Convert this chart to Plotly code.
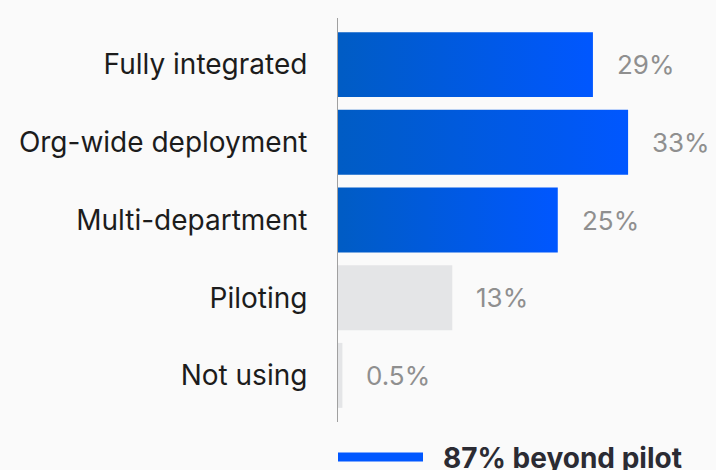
import plotly.graph_objects as go

# Adoption stage shares (percent of respondents)
categories = ["Fully integrated", "Org-wide deployment", "Multi-department", "Piloting", "Not using"]
shares = [29, 33, 25, 13, 0.5]
value_labels = ["29%", "33%", "25%", "13%", "0.5%"]
beyond_pilot = [True, True, True, False, False]
summary_label = "87% beyond pilot"

BLUE_DARK = "#005cc4"
BLUE = "#0057ff"
GREY_BAR = "#e4e5e7"
HALF = 0.418  # half of the bar thickness in category units
FONT = "Inter"

fig = go.Figure()

for i, (cat, val, hi) in enumerate(zip(categories, shares, beyond_pilot)):
    xs = [0, val, val, 0, 0]
    ys = [i - HALF, i - HALF, i + HALF, i + HALF, i - HALF]
    style = dict(fillcolor=GREY_BAR)
    if hi:
        style = dict(fillgradient=dict(type="horizontal",
                                       colorscale=[[0, BLUE_DARK], [1, BLUE]]))
    fig.add_trace(go.Scatter(x=xs, y=ys, mode="lines", fill="toself",
                             line=dict(width=0), name=cat, showlegend=False,
                             hoverinfo="skip", **style))
    fig.add_annotation(x=val, y=i, text=value_labels[i], showarrow=False,
                       xanchor="left", yanchor="middle", xshift=22,
                       font=dict(family=FONT, size=26, color="#8f8f8f"))

# Summary key below the bars
fig.add_shape(type="line", xref="paper", yref="paper",
              x0=0, x1=85 / 378, y0=-35 / 404, y1=-35 / 404,
              line=dict(color=BLUE, width=9))
fig.add_annotation(xref="paper", yref="paper", x=103 / 378, y=-36 / 404,
                   text="<b>" + summary_label + "</b>", showarrow=False,
                   xanchor="left", yanchor="middle",
                   font=dict(family=FONT, size=28, color="#2b2b33"))

fig.update_layout(
    width=716, height=470,
    margin=dict(l=338, r=0, t=18, b=48),
    paper_bgcolor="#fafafa", plot_bgcolor="#fafafa",
    showlegend=False,
    font=dict(family=FONT),
    xaxis=dict(range=[0, 43], visible=False, fixedrange=True),
    yaxis=dict(range=[4.6, -0.6], tickvals=list(range(len(categories))),
               ticktext=categories, showgrid=False, zeroline=False,
               showline=True, linecolor="#a0a0a0", linewidth=1,
               ticks="", ticklabelstandoff=24,
               tickfont=dict(family=FONT, size=28, color="#1c1c1c")),
)

fig.write_html("out.html")
